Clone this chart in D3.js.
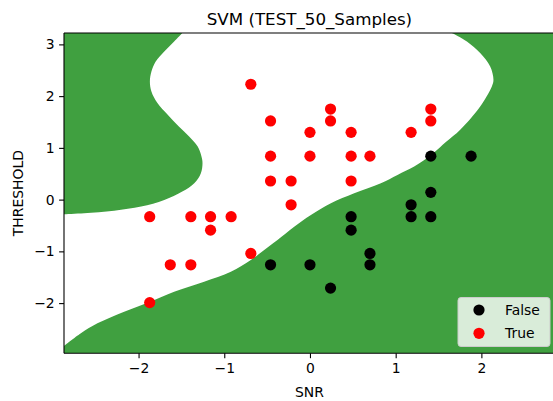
<!DOCTYPE html>
<html>
<head>
<meta charset="utf-8">
<script src="https://cdn.jsdelivr.net/npm/d3@7"></script>
<style>
  body { margin: 0; background: #fff; }
  svg { display: block; font-family: 'DejaVu Sans', sans-serif; }
</style>
</head>
<body>
<svg id="chart" width="553" height="401"></svg>
<script>
// samples (SNR, THRESHOLD)
const trueSNR = [-1.87, -1.87, -1.63, -1.39, -1.39, -1.16, -1.16, -0.92, -0.69, -0.69, -0.46, -0.46, -0.46,
  -0.22, -0.22, 0, 0, 0.24, 0.24, 0.48, 0.48, 0.48, 0.70, 1.18, 1.41, 1.41];
const trueThreshold = [-0.33, -1.99, -1.26, -0.33, -1.26, -0.33, -0.59, -0.33, 2.23, -1.04, 1.52, 0.84, 0.36,
  0.36, -0.10, 1.30, 0.84, 1.75, 1.52, 1.30, 0.84, 0.36, 0.84, 1.30, 1.75, 1.52];

const falseSNR = [-0.46, 0, 0.24, 0.48, 0.48, 0.70, 0.70, 1.18, 1.18, 1.41, 1.41, 1.41, 1.88];
const falseThreshold = [-1.26, -1.26, -1.71, -0.33, -0.59, -1.04, -1.26, -0.10, -0.33, -0.33, 0.14, 0.84, 0.84];

// decision boundary
// upper-left lobe: from top edge down to left edge
const lobeSNR = [-1.49, -1.585, -1.70, -1.80, -1.85, -1.868, -1.85, -1.78, -1.66, -1.53, -1.41, -1.31,
  -1.266, -1.254, -1.273, -1.35, -1.49, -1.70, -1.97, -2.285, -2.635, -2.87];
const lobeThreshold = [3.22, 3.056, 2.863, 2.669, 2.476, 2.282, 2.089, 1.865, 1.638, 1.412, 1.219, 1.025,
  0.832, 0.704, 0.511, 0.317, 0.155, -0.006, -0.135, -0.213, -0.263, -0.282];
// lower band: from left edge up to top edge
const bandSNR = [-2.87, -2.673, -2.48, -2.168, -1.865, -1.585, -1.235, -0.923, -0.69, -0.534, -0.379,
  -0.184, 0.011, 0.244, 0.516, 0.827, 1.021, 1.216, 1.438, 1.589, 1.753, 1.986, 2.122, 2.141, 2.103,
  1.986, 1.831, 1.656];
const bandThreshold = [-2.83, -2.584, -2.391, -2.166, -1.973, -1.779, -1.586, -1.393, -1.166, -0.973,
  -0.779, -0.522, -0.296, -0.07, 0.124, 0.317, 0.478, 0.638, 0.897, 1.116, 1.348, 1.799, 2.186, 2.315,
  2.573, 2.832, 3.056, 3.22];

const xTicks = [-2, -1, 0, 1, 2];
const yTicks = [-2, -1, 0, 1, 2, 3];
const legendLabels = ['False', 'True'];
const legendColors = ['#000000', '#ff0000'];

const svg = d3.select('#chart');

//set scale
const x = d3.scaleLinear().domain([-2.87, 2.88]).range([64, 556.8]);
const y = d3.scaleLinear().domain([-2.97, 3.22]).range([353.3, 33]);

const plotLeft = x.range()[0], plotRight = x.range()[1];
const plotTop = y.range()[1], plotBottom = y.range()[0];

svg.append('clipPath').attr('id', 'plot-clip')
  .append('rect')
  .attr('x', plotLeft).attr('y', plotTop)
  .attr('width', plotRight - plotLeft).attr('height', plotBottom - plotTop);

const plot = svg.append('g').attr('clip-path', 'url(#plot-clip)');

//green background region
plot.append('rect')
  .attr('x', plotLeft).attr('y', plotTop)
  .attr('width', plotRight - plotLeft).attr('height', plotBottom - plotTop)
  .attr('fill', '#40a040');

//white region between the boundaries
const line = d3.line()
  .x(d => x(d[0]))
  .y(d => y(d[1]))
  .curve(d3.curveCatmullRom);

const lobe = d3.zip(lobeSNR, lobeThreshold);
const band = d3.zip(bandSNR, bandThreshold);

plot.append('path')
  .attr('d', line(lobe) + 'L' + line(band).slice(1) + 'Z')
  .attr('fill', '#ffffff');

//points
const points = [
  ...d3.zip(falseSNR, falseThreshold).map(d => ({ snr: d[0], th: d[1], color: legendColors[0] })),
  ...d3.zip(trueSNR, trueThreshold).map(d => ({ snr: d[0], th: d[1], color: legendColors[1] }))
];

plot.selectAll('circle')
  .data(points)
  .enter()
  .append('circle')
  .attr('cx', d => x(d.snr))
  .attr('cy', d => y(d.th))
  .attr('r', 5.6)
  .attr('fill', d => d.color);

//create axes
const minus = d => d3.format('d')(d).replace('-', '\u2212');
const xAxis = d3.axisBottom(x).tickValues(xTicks).tickSize(4.9).tickPadding(4.5).tickFormat(minus);
const yAxis = d3.axisLeft(y).tickValues(yTicks).tickSize(4.9).tickPadding(4.5).tickFormat(minus);

const xAxisGroup = svg.append('g').attr('transform', `translate(0,${plotBottom})`).call(xAxis);
const yAxisGroup = svg.append('g').attr('transform', `translate(${plotLeft},0)`).call(yAxis);

[xAxisGroup, yAxisGroup].forEach(g => {
  g.select('.domain').remove();
  g.selectAll('line').attr('stroke', '#000').attr('stroke-width', 1.1);
  g.selectAll('text').attr('fill', '#000').style('font-size', '13.9px')
    .style('font-family', "'DejaVu Sans', sans-serif");
});

//spines
const spine = (x1, y1, x2, y2) => svg.append('line')
  .attr('x1', x1).attr('y1', y1).attr('x2', x2).attr('y2', y2)
  .attr('stroke', '#000').attr('stroke-width', 1.1);
spine(plotLeft, plotTop, plotLeft, plotBottom);
spine(plotLeft, plotBottom, plotRight, plotBottom);
spine(plotLeft, plotTop, plotRight, plotTop);
spine(plotRight, plotTop, plotRight, plotBottom);

//titles
svg.append('text')
  .attr('x', (plotLeft + plotRight) / 2 - 1)
  .attr('y', 25)
  .attr('text-anchor', 'middle')
  .style('font-size', '16.7px')
  .text('SVM (TEST_50_Samples)');

svg.append('text')
  .attr('x', (plotLeft + plotRight) / 2 - 1)
  .attr('y', 397)
  .attr('text-anchor', 'middle')
  .style('font-size', '13.9px')
  .text('SNR');

svg.append('text')
  .attr('transform', `translate(23,${(plotTop + plotBottom) / 2}) rotate(-90)`)
  .attr('text-anchor', 'middle')
  .style('font-size', '13.9px')
  .text('THRESHOLD');

//legend
const legend = svg.append('g').attr('transform', 'translate(458,297.5)');

legend.append('rect')
  .attr('width', 92).attr('height', 49)
  .attr('rx', 3)
  .attr('fill', '#ffffff').attr('fill-opacity', 0.8)
  .attr('stroke', '#cccccc').attr('stroke-width', 1);

const items = legend.selectAll('g.item')
  .data(legendLabels)
  .enter()
  .append('g')
  .attr('class', 'item')
  .attr('transform', (d, i) => `translate(0,${12.5 + i * 23.3})`);

items.append('circle')
  .attr('cx', 21).attr('cy', 0).attr('r', 5.6)
  .attr('fill', (d, i) => legendColors[i]);

items.append('text')
  .attr('x', 47).attr('y', 5)
  .style('font-size', '13.9px')
  .text(d => d);
</script>
</body>
</html>
